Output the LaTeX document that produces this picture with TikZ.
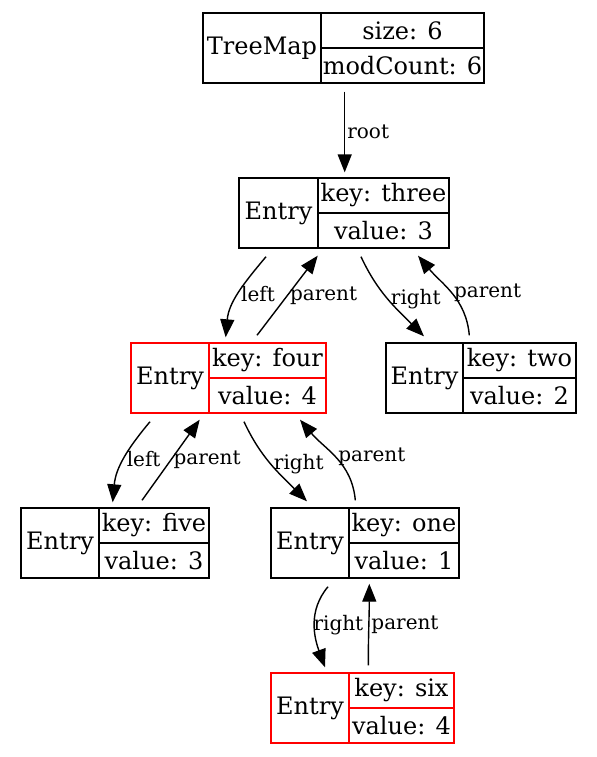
\documentclass[tikz,border=0pt]{standalone}
\usepackage{fontspec}
\setmainfont{DejaVu Serif}
\usetikzlibrary{arrows.meta}

\tikzset{
  cell/.style={draw, rectangle, inner sep=0pt, line width=0.7pt, font=\fontsize{12}{14}\selectfont},
  ptr/.style={-{Triangle[length=9pt,width=7pt]}, line width=0.7pt},
  lab/.style={font=\fontsize{10}{12}\selectfont, inner sep=1pt, right}
}

\begin{document}
\begin{tikzpicture}[x=0.5pt, y=0.5pt]
\useasboundingbox (0,0) rectangle (596,-757);

% records: name/left/divider/right/top/head/upper/lower/colour
\foreach \nm/\xa/\xb/\xc/\yt/\hd/\ka/\va/\cl in {
    tm/203/321/484/13/TreeMap/{size: 6}/{modCount: 6}/black,
    three/239/318/449/178/Entry/{key: three}/{value: 3}/black,
    four/131/209/326/343/Entry/{key: four}/{value: 4}/red,
    two/386/463/576/343/Entry/{key: two}/{value: 2}/black,
    five/21/99/209/508/Entry/{key: five}/{value: 3}/black,
    one/271/349/459/508/Entry/{key: one}/{value: 1}/black,
    six/271/349/454/673/Entry/{key: six}/{value: 4}/red}
{
    \node[cell, draw=\cl, minimum width={(\xb-\xa)*0.5pt}, minimum height=35pt] (\nm) at ({(\xa+\xb)/2},{-\yt-35}) {\hd};
    \node[cell, draw=\cl, minimum width={(\xc-\xb)*0.5pt}, minimum height=17.5pt] (\nm-k) at ({(\xb+\xc)/2},{-\yt-17.5}) {\ka};
    \node[cell, draw=\cl, minimum width={(\xc-\xb)*0.5pt}, minimum height=17.5pt] (\nm-v) at ({(\xb+\xc)/2},{-\yt-52.5}) {\va};
}

\draw[ptr] ([shift={(23,-8)}]tm.south east) -- node[lab]{root} ([shift={(26,5)}]three.north east);

\draw[ptr] ([shift={(-12.5,-8)}]three.south) to[out=-130, in=85] node[lab]{left} ([shift={(16,5)}]four.north east);
\draw[ptr] ([shift={(-10.5,7)}]four-k.north) -- node[lab]{parent} ([shift={(-1,-7)}]three.south east);
\draw[ptr] ([shift={(-22.5,-8)}]three-v.south) to[out=-65, in=135] node[lab]{right} ([shift={(-0.5,6)}]two.north);
\draw[ptr] ([shift={(7,7)}]two-k.north west) to[out=95, in=-50] node[lab]{parent} ([shift={(34.5,-7)}]three-v.south);

\draw[ptr] ([shift={(-20,-8)}]four.south) to[out=-130, in=85] node[lab]{left} ([shift={(13,5)}]five.north east);
\draw[ptr] ([shift={(-12,7)}]five-k.north) -- node[lab]{parent} ([shift={(-10,-6)}]four.south east);
\draw[ptr] ([shift={(-23.5,-8)}]four-v.south) to[out=-65, in=135] node[lab]{right} ([shift={(-3,6)}]one.north);
\draw[ptr] ([shift={(7,7)}]one-k.north west) to[out=95, in=-50] node[lab]{parent} ([shift={(32.5,-6)}]four-v.south);

\draw[ptr] ([shift={(18,-8)}]one.south) to[out=-130, in=110] node[lab, xshift=-2pt]{right} ([shift={(15,5)}]six.north);
\draw[ptr] ([shift={(20,7)}]six-k.north west) to[out=90, in=-90] node[lab]{parent} ([shift={(21,-5)}]one-v.south west);

\end{tikzpicture}
\end{document}
